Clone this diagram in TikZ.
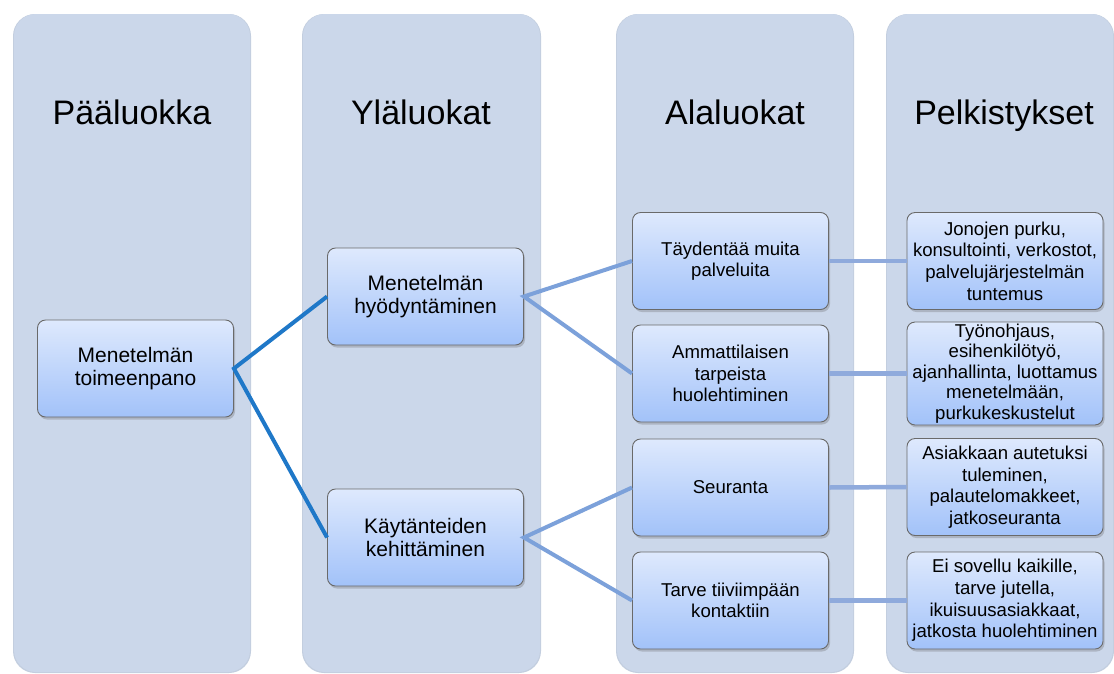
\documentclass[tikz,border=0pt]{standalone}
\usepackage{fontspec}
\setmainfont{Liberation Sans}
\usetikzlibrary{shadows}
\definecolor{panelc}{HTML}{CBD7EA}
\definecolor{toptc}{HTML}{DEE9FD}
\definecolor{botc}{HTML}{A2C2F9}
\definecolor{edgec}{HTML}{6A6A6A}
\definecolor{linea}{HTML}{1F78C8}
\definecolor{lineb}{HTML}{7CA1DA}
\definecolor{linec}{HTML}{8FAADC}
\tikzset{
  panel/.style={fill=panelc, draw=none, rounded corners=22pt},
  header/.style={font=\fontsize{34}{40}\selectfont, text=black, anchor=base},
  box/.style={draw=edgec, line width=0.9pt, rounded corners=8pt,
    top color=toptc, bottom color=botc, align=center,
    minimum width=196pt, minimum height=97pt, inner sep=2pt,
    drop shadow={shadow xshift=1.5pt, shadow yshift=-2.5pt, opacity=0.3, fill=black!60}},
  bigtxt/.style={font=\fontsize{21}{23}\selectfont},
  smalltxt/.style={font=\fontsize{18.6}{21.6}\selectfont},
  tighttxt/.style={font=\fontsize{18.6}{20.4}\selectfont},
  conna/.style={draw=linea, line width=4pt},
  connb/.style={draw=lineb, line width=4pt},
  connc/.style={draw=linec, line width=4.5pt},
}
\begin{document}
\begin{tikzpicture}[x=1pt,y=-1pt]
\useasboundingbox (0,0) rectangle (1114,673);
% panels
\fill[panelc!90!gray, rounded corners=22pt] (13,14) rectangle (251,673);
\fill[panelc!90!gray, rounded corners=22pt] (302,14) rectangle (541,673);
\fill[panelc!90!gray, rounded corners=22pt] (616,14) rectangle (854,673);
\fill[panelc!90!gray, rounded corners=22pt] (886,14) rectangle (1114,673);
\path[panel] (14,14) rectangle (250,672);
\path[panel] (303,14) rectangle (540,672);
\path[panel] (617,14) rectangle (853,672);
\path[panel] (887,14) rectangle (1113,672);
% headers
\node[header] (h1) at (132,124) {Pääluokka};
\node[header] (h2) at (421,124) {Yläluokat};
\node[header] (h3) at (735,124) {Alaluokat};
\node[header] (h4) at (1004,124) {Pelkistykset};
% boxes
\node[box, bigtxt] (a) at (135.5,368.5) {Menetelmän\\toimeenpano};
\node[box, bigtxt] (b1) at (425.5,296.5) {Menetelmän\\hyödyntäminen};
\node[box, bigtxt] (b2) at (425.5,537.5) {Käytänteiden\\kehittäminen};
\node[box, smalltxt] (c1) at (730.5,261) {Täydentää muita\\palveluita};
\node[box, smalltxt] (c2) at (730.5,373.5) {Ammattilaisen\\tarpeista\\huolehtiminen};
\node[box, smalltxt] (c3) at (730.5,487.5) {Seuranta};
\node[box, smalltxt] (c4) at (730.5,600.5) {Tarve tiiviimpään\\kontaktiin};
\node[box, smalltxt] (d1) at (1005,261) {Jonojen purku,\\konsultointi, verkostot,\\palvelujärjestelmän\\tuntemus};
\node[box, tighttxt] (d2) at (1005,373.5) {Työnohjaus,\\esihenkilötyö,\\ajanhallinta, luottamus\\menetelmään,\\purkukeskustelut};
\node[box, smalltxt] (d3) at (1005,487) {Asiakkaan autetuksi\\tuleminen,\\palautelomakkeet,\\jatkoseuranta};
\node[box, smalltxt] (d4) at (1005,600.5) {Ei sovellu kaikille,\\tarve jutella,\\ikuisuusasiakkaat,\\jatkosta huolehtiminen};
% connectors
\draw[conna] (b1.west) -- (a.east) -- (b2.west);
\draw[connb] (c1.west) -- (b1.east) -- (c2.west);
\draw[connb] (c3.west) -- (b2.east) -- (c4.west);
\draw[connc] (c1.east) -- (d1.west);
\draw[connc] (c2.east) -- (d2.west);
\draw[connc] (c3.east) -- (d3.west);
\draw[connc] (c4.east) -- (d4.west);
\end{tikzpicture}
\end{document}
